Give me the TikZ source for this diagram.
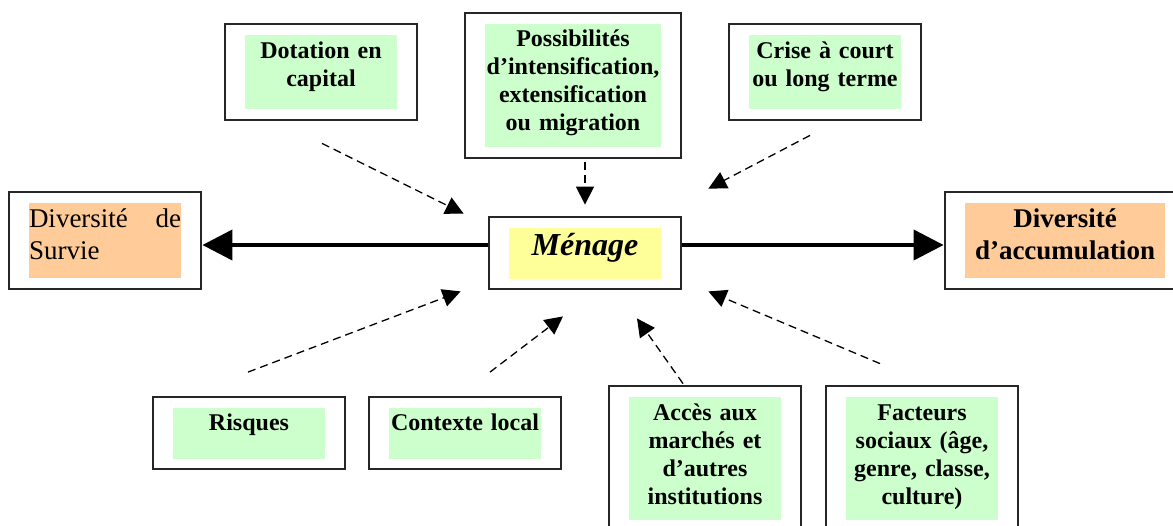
\documentclass[tikz,border=0pt]{standalone}
\usepackage{fontspec}
\setmainfont{Liberation Serif}
\usetikzlibrary{arrows.meta,fit}
\definecolor{shadegreen}{HTML}{CCFFCC}
\definecolor{shadeorange}{HTML}{FFCC99}
\definecolor{shadeyellow}{HTML}{FFFF99}
\begin{document}
\begin{tikzpicture}[
    x=0.5pt, y=-0.5pt,
    shade/.style = {fill=shadegreen, inner sep=0pt, text width=76pt, align=center, text height=11.5pt, font=\fontsize{12}{14}\selectfont\bfseries},
    side/.style = {shade, fill=shadeorange, text height=12pt, text depth=25.5pt, font=\fontsize{13.5}{16}\selectfont},
    frame/.style = {draw=black!85, line width=1pt, inner xsep=10pt, inner ysep=5.25pt},
    bigline/.style = {draw, line width=2pt, -{Triangle[length=15pt,width=15pt]}},
    line/.style = {draw, line width=0.65pt, dash pattern=on 4pt off 2.5pt, -{Triangle[length=9pt,width=9pt]}}
]
    \useasboundingbox (0,0) rectangle (1173,525);

    % Nodes - texte sur fond, cadre autour
    \node [shade, text depth=25.5pt] (dotationtxt) at (321, 72) {Dotation en\\capital};
    \node [shade, text width=88pt, text height=11pt, text depth=50.5pt] (possibtxt) at (573, 85.5) {Possibilités\\d’intensification,\\extensification\\ou migration};
    \node [shade, text depth=25.5pt] (crisetxt) at (825, 72) {Crise à court\\ou long terme};

    \node [side, align=left] (survietxt) at (105, 240.5) {Diversité \hfill de\\Survie};
    \node [shade, fill=shadeyellow, text height=14pt, text depth=11.5pt, font=\fontsize{16}{19}\selectfont\bfseries\itshape] (menagetxt) at (585, 253) {Ménage};
    \node [side, text width=100pt, font=\fontsize{13.5}{16}\selectfont\bfseries] (accumtxt) at (1065, 240.5) {Diversité\\d’accumulation};

    \node [shade, text depth=14pt] (risquestxt) at (249, 433) {Risques};
    \node [shade, text depth=14pt] (contextetxt) at (465, 433) {Contexte local};
    \node [shade, text depth=50pt] (accestxt) at (705, 458.5) {Accès aux\\marchés et\\d’autres\\institutions};
    \node [shade, text depth=50pt] (facteurstxt) at (922, 458.5) {Facteurs\\sociaux (âge,\\genre, classe,\\culture)};

    \node [frame, fit=(dotationtxt)] (dotation) {};
    \node [frame, fit=(possibtxt)] (possib) {};
    \node [frame, fit=(crisetxt)] (crise) {};
    \node [frame, fit=(survietxt)] (survie) {};
    \node [frame, fit=(menagetxt)] (menage) {};
    \node [frame, fit=(accumtxt)] (accum) {};
    \node [frame, fit=(risquestxt)] (risques) {};
    \node [frame, fit=(contextetxt)] (contexte) {};
    \node [frame, fit=(accestxt)] (acces) {};
    \node [frame, fit=(facteurstxt)] (facteurs) {};

    \coordinate (axe) at (0, 245);

    % Edges
    \path [bigline] (menage.west |- axe) -- (survie.east |- axe);
    \path [bigline] (menage.east |- axe) -- (accum.west |- axe);

    \path [line] ([shift={(1,22.5)}]dotation.south) -- ([shift={(-24,-2)}]menage.north west);
    \path [line] ([shift={(12,3.5)}]possib.south) -- ([shift={(0,-11)}]menage.north);
    \path [line] ([shift={(-15,14.5)}]crise.south) -- ([shift={(26,-27)}]menage.north east);

    \path [line] ([shift={(-1,-23.5)}]risques.north) -- ([shift={(-27,1)}]menage.south west);
    \path [line] ([shift={(25,-23.5)}]contexte.north) -- ([shift={(-22,26)}]menage.south);
    \path [line] ([shift={(-22,-1.5)}]acces.north) -- ([shift={(52,28)}]menage.south);
    \path [line] ([shift={(-42,-21.5)}]facteurs.north) -- ([shift={(26,1)}]menage.south east);

\end{tikzpicture}
\end{document}
